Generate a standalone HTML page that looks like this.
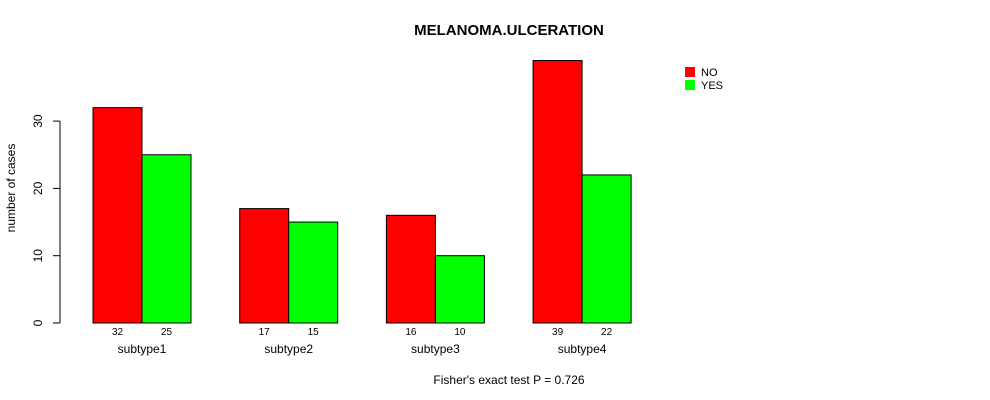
<!DOCTYPE html>
<html><head><meta charset="utf-8"><style>
body{margin:0;background:#fff;}
svg{display:block;font-family:"Liberation Sans",sans-serif;}
</style></head><body>
<svg id="chart" width="990" height="400">
<text x="509" y="35" text-anchor="middle" font-size="15" font-weight="bold">MELANOMA.ULCERATION</text>
<text transform="translate(15,188) rotate(-90)" text-anchor="middle" font-size="12">number of cases</text>
<text x="509" y="384" text-anchor="middle" font-size="12">Fisher's exact test P = 0.726</text>
<g id="yaxis"></g>
<g id="bars"></g>
<g>
<rect x="685" y="67" width="10" height="10" fill="#ff0000"/>
<text x="701" y="76" font-size="11">NO</text>
<rect x="685" y="80" width="10" height="10" fill="#00ff00"/>
<text x="701" y="89" font-size="11">YES</text>
</g>
</svg>
<script>
const categories=["subtype1","subtype2","subtype3","subtype4"];
const noValues=[32,17,16,39];
const yesValues=[25,15,10,22];
const yTicks=[0,10,20,30];
const NS="http://www.w3.org/2000/svg";
function y(v){return 323-v*6.73;}
function gx(i){return 93+i*146.7;}
const bw=49;
function mk(tag,attrs,parent){const e=document.createElementNS(NS,tag);for(const k in attrs)e.setAttribute(k,attrs[k]);parent.appendChild(e);return e;}
const ya=document.getElementById('yaxis');
const axl=mk('line',{x1:60,x2:60,y1:y(0),y2:y(30),stroke:'#000'},ya);


yTicks.forEach(t=>{
 const l=mk('line',{x1:53,x2:60,y1:y(t),y2:y(t),stroke:'#000'},ya);
 
 
 const tx=mk('text',{transform:`translate(42,${y(t)}) rotate(-90)`,'text-anchor':'middle','font-size':12},ya);
 tx.textContent=t;
 
 
});
const bg=document.getElementById('bars');
categories.forEach((c,i)=>{
 const x0=gx(i);
 [[noValues[i],'#ff0000',x0,'bar-no-'+c],[yesValues[i],'#00ff00',x0+bw,'bar-yes-'+c]].forEach(([v,col,x,n])=>{
  const r=mk('rect',{x:x,y:y(v),width:bw,height:y(0)-y(v),fill:col,stroke:'#000','stroke-width':1},bg);
  
  
  const t=mk('text',{x:x+bw/2,y:335,'text-anchor':'middle','font-size':10},bg);
  t.textContent=v;
  
  
 });
 const ct=mk('text',{x:x0+bw,y:353,'text-anchor':'middle','font-size':12},bg);
 ct.textContent=c;
 
 
});
</script>
</body></html>
